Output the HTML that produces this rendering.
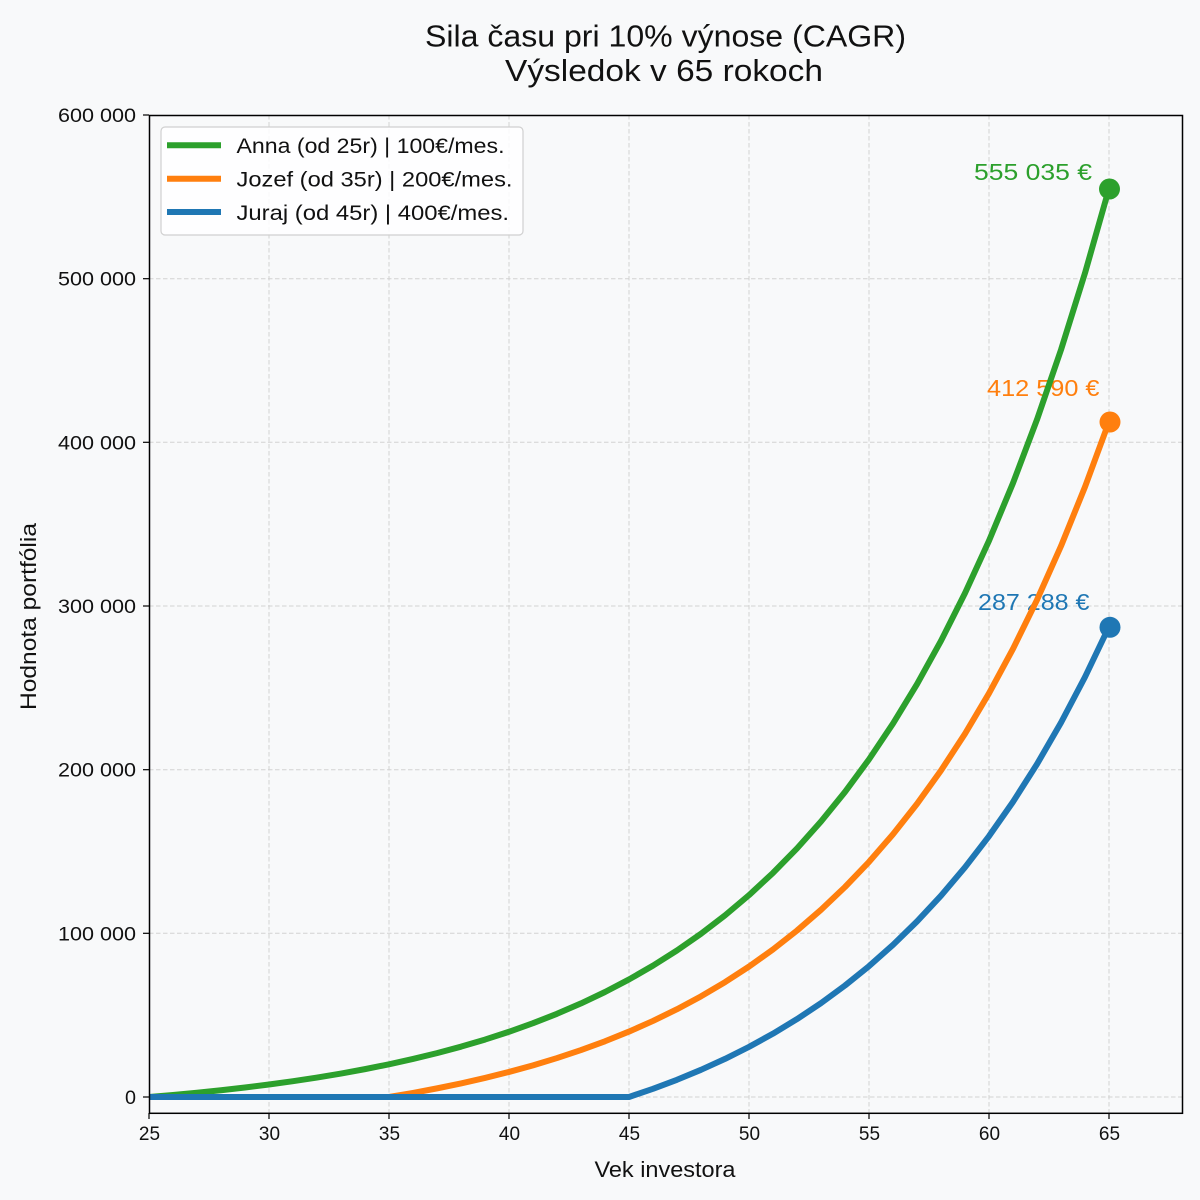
<!DOCTYPE html>
<html>
<head>
<meta charset="utf-8">
<style>
  html, body { margin:0; padding:0; background:#f8f9fa; }
  svg { display:block; }
  text { font-family: "Liberation Sans", "DejaVu Sans", sans-serif; fill:#111; }
</style>
</head>
<body>
<svg width="1200" height="1200" viewBox="0 0 1200 1200" xmlns="http://www.w3.org/2000/svg">
  <defs>
    <clipPath id="ax">
      <rect x="149" y="115" width="1034" height="998.5"/>
    </clipPath>
  </defs>
  <rect x="0" y="0" width="1200" height="1200" fill="#f8f9fa"/>

  <!-- Title -->
  <text x="665.5" y="46.5" font-size="31" text-anchor="middle" textLength="481" lengthAdjust="spacingAndGlyphs">Sila času pri 10% výnose (CAGR)</text>
  <text x="664" y="81" font-size="31" text-anchor="middle" textLength="318" lengthAdjust="spacingAndGlyphs">Výsledok v 65 rokoch</text>

  <!-- Grid -->
  <g stroke="#d2d2d2" stroke-width="1" stroke-dasharray="4.5,2.5" fill="none">
    <line x1="269" y1="115" x2="269" y2="1113"/>
    <line x1="389" y1="115" x2="389" y2="1113"/>
    <line x1="509" y1="115" x2="509" y2="1113"/>
    <line x1="629" y1="115" x2="629" y2="1113"/>
    <line x1="749" y1="115" x2="749" y2="1113"/>
    <line x1="869" y1="115" x2="869" y2="1113"/>
    <line x1="989" y1="115" x2="989" y2="1113"/>
    <line x1="1109" y1="115" x2="1109" y2="1113"/>
    <line x1="149" y1="1097" x2="1182" y2="1097"/>
    <line x1="149" y1="933.3" x2="1182" y2="933.3"/>
    <line x1="149" y1="769.7" x2="1182" y2="769.7"/>
    <line x1="149" y1="606" x2="1182" y2="606"/>
    <line x1="149" y1="442.3" x2="1182" y2="442.3"/>
    <line x1="149" y1="278.7" x2="1182" y2="278.7"/>
  </g>

  <!-- Annotations (under lines) -->
  <text x="1092" y="180" font-size="23.5" fill="#2ca02c" style="fill:#2ca02c" text-anchor="end" textLength="118" lengthAdjust="spacingAndGlyphs">555 035 €</text>
  <text x="1099.5" y="396" font-size="23.5" style="fill:#ff7f0e" text-anchor="end" textLength="112.5" lengthAdjust="spacingAndGlyphs">412 590 €</text>
  <text x="1089.5" y="610" font-size="23.5" style="fill:#1f77b4" text-anchor="end" textLength="111.5" lengthAdjust="spacingAndGlyphs">287 288 €</text>

  <!-- Series -->
  <g clip-path="url(#ax)" fill="none" stroke-width="6" stroke-linejoin="round" stroke-linecap="butt">
    <polyline stroke="#2ca02c" points="149,1097 173,1094.95 197,1092.69 221,1090.21 245,1087.47 269,1084.47 293,1081.16 317,1077.53 341,1073.53 365,1069.13 389,1064.29 413,1058.96 437,1053.11 461,1046.67 485,1039.58 509,1031.79 533,1023.21 557,1013.78 581,1003.41 605,992.00 629,979.44 653,965.63 677,950.45 701,933.74 725,915.36 749,895.14 773,872.90 797,848.44 821,821.53 845,791.93 869,759.38 893,723.56 917,684.16 941,640.83 965,593.16 989,540.72 1013,483.04 1037,419.59 1061,349.80 1085,273.03 1109,188.58"/>
    <polyline stroke="#ff7f0e" points="149,1097 389,1097 413,1092.90 437,1088.38 461,1083.41 485,1077.95 509,1071.94 533,1065.33 557,1058.06 581,1050.06 605,1041.26 629,1031.58 653,1020.93 677,1009.22 701,996.34 725,982.16 749,966.57 773,949.43 797,930.57 821,909.82 845,887.00 869,861.89 893,834.27 917,803.89 941,770.47 965,733.72 989,693.29 1013,648.81 1037,599.89 1061,546.07 1085,486.87 1109,421.76"/>
    <polyline stroke="#1f77b4" points="149,1097 629,1097 653,1088.79 677,1079.76 701,1069.82 725,1058.90 749,1046.88 773,1033.65 797,1019.11 821,1003.11 845,985.51 869,966.15 893,944.86 917,921.44 941,895.67 965,867.33 989,836.15 1013,801.85 1037,764.13 1061,722.64 1085,676.99 1109,626.77"/>
  </g>
  <circle cx="1109.5" cy="189" r="10.5" fill="#2ca02c"/>
  <circle cx="1110" cy="422" r="10.5" fill="#ff7f0e"/>
  <circle cx="1110" cy="627.3" r="10.5" fill="#1f77b4"/>

  <!-- Spines -->
  <rect x="149.5" y="115.5" width="1033" height="997.8" fill="none" stroke="#000" stroke-width="1.5"/>

  <!-- Y ticks -->
  <g stroke="#000" stroke-width="1.2">
    <line x1="143" y1="1097" x2="149" y2="1097"/>
    <line x1="143" y1="933.3" x2="149" y2="933.3"/>
    <line x1="143" y1="769.7" x2="149" y2="769.7"/>
    <line x1="143" y1="606" x2="149" y2="606"/>
    <line x1="143" y1="442.3" x2="149" y2="442.3"/>
    <line x1="143" y1="278.7" x2="149" y2="278.7"/>
    <line x1="143" y1="115" x2="149" y2="115"/>
  </g>
  <g font-size="19" text-anchor="end">
    <text x="136" y="1104" textLength="11" lengthAdjust="spacingAndGlyphs">0</text>
    <text x="136" y="940.3" textLength="78" lengthAdjust="spacingAndGlyphs">100 000</text>
    <text x="136" y="776.7" textLength="78" lengthAdjust="spacingAndGlyphs">200 000</text>
    <text x="136" y="613" textLength="78" lengthAdjust="spacingAndGlyphs">300 000</text>
    <text x="136" y="449.3" textLength="78" lengthAdjust="spacingAndGlyphs">400 000</text>
    <text x="136" y="285.7" textLength="78" lengthAdjust="spacingAndGlyphs">500 000</text>
    <text x="136" y="122" textLength="78" lengthAdjust="spacingAndGlyphs">600 000</text>
  </g>

  <!-- X ticks -->
  <g stroke="#000" stroke-width="1.2">
    <line x1="149" y1="1113" x2="149" y2="1119"/>
    <line x1="269" y1="1113" x2="269" y2="1119"/>
    <line x1="389" y1="1113" x2="389" y2="1119"/>
    <line x1="509" y1="1113" x2="509" y2="1119"/>
    <line x1="629" y1="1113" x2="629" y2="1119"/>
    <line x1="749" y1="1113" x2="749" y2="1119"/>
    <line x1="869" y1="1113" x2="869" y2="1119"/>
    <line x1="989" y1="1113" x2="989" y2="1119"/>
    <line x1="1109" y1="1113" x2="1109" y2="1119"/>
  </g>
  <g font-size="19" text-anchor="middle">
    <text x="149.5" y="1140">25</text>
    <text x="269.5" y="1140">30</text>
    <text x="389.5" y="1140">35</text>
    <text x="509.5" y="1140">40</text>
    <text x="629.5" y="1140">45</text>
    <text x="749.5" y="1140">50</text>
    <text x="869.5" y="1140">55</text>
    <text x="989.5" y="1140">60</text>
    <text x="1109.5" y="1140">65</text>
  </g>

  <!-- Axis labels -->
  <text x="665" y="1177" font-size="22" text-anchor="middle" textLength="141" lengthAdjust="spacingAndGlyphs">Vek investora</text>
  <text transform="translate(36,616.5) rotate(-90)" x="0" y="0" font-size="22" text-anchor="middle" textLength="187" lengthAdjust="spacingAndGlyphs">Hodnota portfólia</text>

  <!-- Legend -->
  <rect x="161" y="127" width="362" height="108" rx="4" ry="4" fill="#ffffff" fill-opacity="0.85" stroke="#d0d0d0" stroke-width="1.2"/>
  <g stroke-width="6">
    <line x1="167" y1="145.3" x2="221" y2="145.3" stroke="#2ca02c"/>
    <line x1="167" y1="178.7" x2="221" y2="178.7" stroke="#ff7f0e"/>
    <line x1="167" y1="212" x2="221" y2="212" stroke="#1f77b4"/>
  </g>
  <g font-size="21.5">
    <text x="236.5" y="153" textLength="268" lengthAdjust="spacingAndGlyphs">Anna (od 25r) | 100€/mes.</text>
    <text x="236.5" y="186.5" textLength="276" lengthAdjust="spacingAndGlyphs">Jozef (od 35r) | 200€/mes.</text>
    <text x="236.5" y="220" textLength="272.5" lengthAdjust="spacingAndGlyphs">Juraj (od 45r) | 400€/mes.</text>
  </g>
</svg>
</body>
</html>
